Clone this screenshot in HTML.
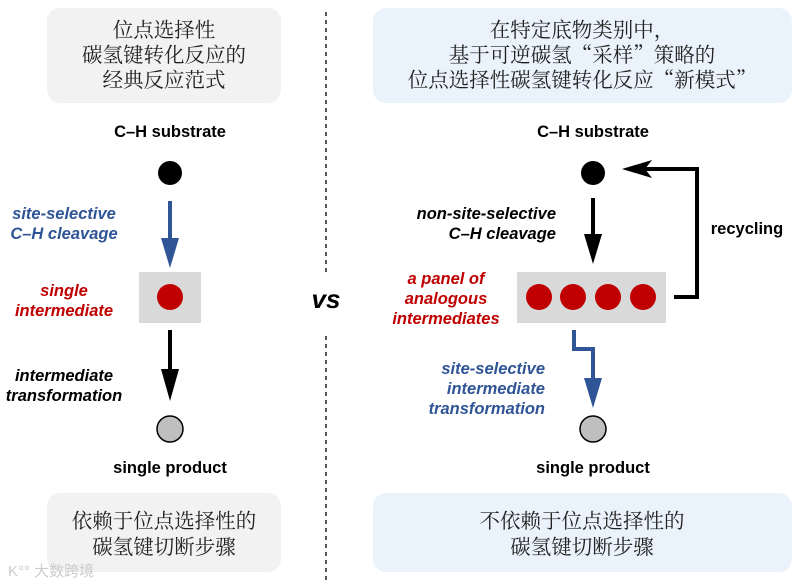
<!DOCTYPE html>
<html><head><meta charset="utf-8"><style>
html,body{margin:0;padding:0;background:#fff;}
svg{display:block}
.cn{font-family:"Noto Serif CJK SC",serif;font-size:20.5px;fill:#222;text-anchor:middle}
.lb{font-family:"Liberation Sans",sans-serif;font-weight:bold;font-style:italic;font-size:16.5px}
.bd{font-family:"Liberation Sans",sans-serif;font-weight:bold;font-size:16.5px;text-anchor:middle}
</style></head><body>
<svg width="800" height="584" viewBox="0 0 800 584" xmlns="http://www.w3.org/2000/svg">
<rect x="47" y="8" width="234" height="95" rx="13" fill="#f2f2f2"/>
<rect x="373" y="8" width="419" height="95" rx="13" fill="#eaf3fc"/>
<rect x="47" y="493" width="234" height="79" rx="13" fill="#f2f2f2"/>
<rect x="373" y="493" width="419" height="79" rx="13" fill="#eaf3fc"/>
<text class="cn" x="164" y="37">位点选择性</text>
<text class="cn" x="164" y="62">碳氢键转化反应的</text>
<text class="cn" x="164" y="87">经典反应范式</text>
<text class="cn" x="582" y="37">在特定底物类别中，</text>
<text class="cn" x="582" y="62">基于可逆碳氢“采样”策略的</text>
<text class="cn" x="582" y="87">位点选择性碳氢键转化反应“新模式”</text>
<text class="cn" x="164" y="528">依赖于位点选择性的</text>
<text class="cn" x="164" y="554">碳氢键切断步骤</text>
<text class="cn" x="582" y="528">不依赖于位点选择性的</text>
<text class="cn" x="582" y="554">碳氢键切断步骤</text>
<line x1="326" y1="12" x2="326" y2="272" stroke="#222" stroke-width="1.5" stroke-dasharray="4,4"/>
<line x1="326" y1="336" x2="326" y2="582" stroke="#222" stroke-width="1.5" stroke-dasharray="4,4"/>
<text x="326" y="308" font-family="Liberation Sans,sans-serif" font-weight="bold" font-style="italic" font-size="26" text-anchor="middle">vs</text>
<!-- left -->
<text class="bd" x="170" y="137">C–H substrate</text>
<circle cx="170" cy="173" r="12" fill="#000"/>
<line x1="170" y1="201" x2="170" y2="245" stroke="#2f5597" stroke-width="4"/>
<polygon points="161,238 179,238 170,268" fill="#2f5597"/>
<rect x="139" y="272" width="62" height="51" fill="#d9d9d9"/>
<circle cx="170" cy="297" r="13" fill="#c00000"/>
<line x1="170" y1="330" x2="170" y2="375" stroke="#000" stroke-width="4"/>
<polygon points="161,369 179,369 170,401" fill="#000"/>
<circle cx="170" cy="429" r="13" fill="#bfbfbf" stroke="#000" stroke-width="1.5"/>
<text class="bd" x="170" y="473">single product</text>
<g class="lb" fill="#2f5597" text-anchor="middle"><text x="64" y="219">site-selective</text><text x="64" y="239">C–H cleavage</text></g>
<g class="lb" fill="#c00000" text-anchor="middle"><text x="64" y="296">single</text><text x="64" y="316">intermediate</text></g>
<g class="lb" fill="#000" text-anchor="middle"><text x="64" y="381">intermediate</text><text x="64" y="401">transformation</text></g>
<!-- right -->
<text class="bd" x="593" y="137">C–H substrate</text>
<circle cx="593" cy="173" r="12" fill="#000"/>
<line x1="593" y1="198" x2="593" y2="240" stroke="#000" stroke-width="4"/>
<polygon points="584,234 602,234 593,264" fill="#000"/>
<rect x="517" y="272" width="149" height="51" fill="#d9d9d9"/>
<circle cx="539" cy="297" r="13" fill="#c00000"/>
<circle cx="573" cy="297" r="13" fill="#c00000"/>
<circle cx="608" cy="297" r="13" fill="#c00000"/>
<circle cx="643" cy="297" r="13" fill="#c00000"/>
<polyline points="674,297 697,297 697,169 640,169" fill="none" stroke="#000" stroke-width="4"/>
<polygon points="622,169 652,160 645,169 652,178" fill="#000"/>
<text x="747" y="234" font-family="Liberation Sans,sans-serif" font-weight="bold" font-size="16.5" text-anchor="middle">recycling</text>
<polyline points="574,330 574,349 593,349 593,385" fill="none" stroke="#2f5597" stroke-width="4"/>
<polygon points="584,378 602,378 593,408" fill="#2f5597"/>
<circle cx="593" cy="429" r="13" fill="#bfbfbf" stroke="#000" stroke-width="1.5"/>
<text class="bd" x="593" y="473">single product</text>
<g class="lb" fill="#000" text-anchor="end"><text x="556" y="219">non-site-selective</text><text x="556" y="239">C–H cleavage</text></g>
<g class="lb" fill="#c00000" text-anchor="middle"><text x="446" y="284">a panel of</text><text x="446" y="304">analogous</text><text x="446" y="324">intermediates</text></g>
<g class="lb" fill="#2f5597" text-anchor="end"><text x="545" y="374">site-selective</text><text x="545" y="394">intermediate</text><text x="545" y="414">transformation</text></g>
<text x="8" y="576" font-family="Liberation Sans,'Noto Sans CJK SC',sans-serif" font-size="15" fill="#ccc">K°° 大数跨境</text>
</svg>
</body></html>
